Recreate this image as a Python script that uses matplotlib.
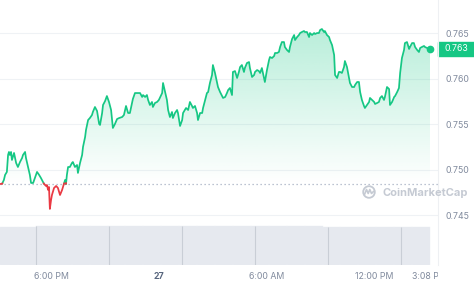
import numpy as np
import matplotlib
matplotlib.use("Agg")
import matplotlib.pyplot as plt
from matplotlib.patches import Rectangle, Circle
from matplotlib.path import Path
from matplotlib.transforms import Bbox

plt.rcParams['font.family'] = ['Inter', 'DejaVu Sans']

# ---------------- data ----------------
# minutes since 3:08 PM (day 26)
minutes = [
    0, 7, 13, 17, 23, 27, 30, 33, 37, 40,
    47, 54, 60, 67, 74, 77, 84, 87, 94, 100,
    104, 111, 117, 124, 131, 137, 144, 147, 154, 157,
    161, 164, 167, 171, 174, 181, 188, 194, 201, 204,
    208, 214, 218, 221, 224, 228, 234, 241, 244, 251,
    258, 261, 268, 275, 278, 285, 288, 295, 301, 308,
    311, 318, 325, 332, 335, 342, 345, 352, 358, 365,
    372, 378, 385, 392, 399, 409, 415, 422, 429, 435,
    442, 445, 452, 459, 469, 476, 479, 486, 492, 496,
    502, 509, 512, 519, 526, 532, 543, 546, 553, 559,
    563, 569, 576, 579, 586, 593, 596, 603, 610, 613,
    623, 630, 636, 643, 646, 653, 660, 663, 670, 677,
    680, 687, 693, 697, 703, 710, 713, 720, 727, 730,
    737, 747, 754, 760, 764, 770, 777, 780, 787, 794,
    800, 804, 810, 817, 820, 827, 834, 837, 844, 851,
    854, 861, 867, 871, 877, 884, 887, 894, 901, 904,
    911, 918, 921, 928, 934, 938, 944, 951, 954, 961,
    968, 971, 978, 985, 988, 995, 1001, 1005, 1011, 1018,
    1021, 1028, 1035, 1038, 1045, 1052, 1055, 1062, 1068, 1072,
    1078, 1085, 1088, 1095, 1102, 1105, 1112, 1119, 1122, 1129,
    1135, 1139, 1145, 1152, 1155, 1162, 1169, 1172, 1179, 1186,
    1189, 1196, 1202, 1206, 1212, 1219, 1222, 1229, 1236, 1239,
    1246, 1253, 1256, 1263, 1269, 1273, 1279, 1286, 1289, 1296,
    1303, 1306, 1313, 1320, 1323, 1330, 1336, 1340, 1346, 1353,
    1356, 1363, 1370, 1373, 1380, 1386, 1390, 1397, 1403, 1407,
    1413, 1420, 1423, 1430, 1440,
]
prices = [
    0.74845, 0.74846, 0.74889, 0.74944, 0.74977, 0.75163, 0.75196, 0.75163, 0.75196, 0.75108,
    0.75185, 0.75075, 0.75031, 0.75086, 0.75130, 0.75163, 0.75196, 0.75130, 0.75031, 0.74944,
    0.74856, 0.74856, 0.74911, 0.74977, 0.74944, 0.74911, 0.74867, 0.74848, 0.74823, 0.74834,
    0.74780, 0.74812, 0.74571, 0.74670, 0.74724, 0.74801, 0.74823, 0.74801, 0.74724, 0.74747,
    0.74780, 0.74845, 0.74889, 0.74845, 0.74944, 0.75031, 0.75031, 0.75075, 0.75086, 0.75031,
    0.75053, 0.74966, 0.75075, 0.75163, 0.75251, 0.75360, 0.75437, 0.75546, 0.75568, 0.75601,
    0.75634, 0.75689, 0.75645, 0.75503, 0.75492, 0.75623, 0.75711, 0.75755, 0.75809, 0.75744,
    0.75656, 0.75459, 0.75503, 0.75557, 0.75568, 0.75579, 0.75601, 0.75700, 0.75623, 0.75623,
    0.75733, 0.75777, 0.75842, 0.75842, 0.75842, 0.75799, 0.75820, 0.75799, 0.75820, 0.75766,
    0.75711, 0.75744, 0.75689, 0.75733, 0.75744, 0.75766, 0.75842, 0.75952, 0.75853, 0.75766,
    0.75656, 0.75579, 0.75634, 0.75568, 0.75623, 0.75656, 0.75623, 0.75481, 0.75546, 0.75623,
    0.75678, 0.75656, 0.75744, 0.75700, 0.75678, 0.75700, 0.75623, 0.75546, 0.75623, 0.75623,
    0.75678, 0.75766, 0.75842, 0.75853, 0.75952, 0.76040, 0.76149, 0.76062, 0.75952, 0.75908,
    0.75853, 0.75788, 0.75799, 0.75842, 0.75875, 0.75897, 0.75820, 0.76073, 0.76083, 0.76007,
    0.76073, 0.76127, 0.76149, 0.76073, 0.76116, 0.76171, 0.76182, 0.76116, 0.76018, 0.76040,
    0.76073, 0.76094, 0.76083, 0.76062, 0.76116, 0.76007, 0.75963, 0.76094, 0.76204, 0.76237,
    0.76226, 0.76248, 0.76281, 0.76281, 0.76292, 0.76347, 0.76401, 0.76401, 0.76347, 0.76314,
    0.76292, 0.76347, 0.76434, 0.76478, 0.76423, 0.76456, 0.76478, 0.76500, 0.76511, 0.76522,
    0.76511, 0.76511, 0.76456, 0.76500, 0.76478, 0.76500, 0.76489, 0.76500, 0.76500, 0.76533,
    0.76544, 0.76511, 0.76522, 0.76478, 0.76456, 0.76423, 0.76368, 0.76259, 0.76040, 0.76007,
    0.76073, 0.76073, 0.76062, 0.76127, 0.76193, 0.76127, 0.76007, 0.75952, 0.75908, 0.75908,
    0.75930, 0.75963, 0.75963, 0.75853, 0.75766, 0.75700, 0.75678, 0.75711, 0.75744, 0.75788,
    0.75766, 0.75744, 0.75722, 0.75733, 0.75744, 0.75788, 0.75809, 0.75766, 0.75799, 0.75908,
    0.75886, 0.75711, 0.75744, 0.75799, 0.75809, 0.75853, 0.75897, 0.76062, 0.76226, 0.76314,
    0.76390, 0.76401, 0.76325, 0.76347, 0.76390, 0.76390, 0.76347, 0.76314, 0.76292, 0.76336,
    0.76347, 0.76358, 0.76347, 0.76336, 0.76325,
]
open_price = 0.7485

# hourly volume (arbitrary units, millions)
volume_hours = list(range(24))
volumes = [388, 386, 396, 398, 398, 399, 398, 398, 397, 398, 399, 398,
           398, 398, 397, 396, 396, 395, 386, 385, 385, 384, 385, 384]
volume_dividers = [121, 365, 610, 854, 1098, 1343]

y_ticks = [0.745, 0.750, 0.755, 0.760, 0.765]
x_tick_pos = [172, 532, 892, 1252]
x_tick_labels = ["6:00 PM", "27", "6:00 AM", "12:00 PM"]
last_label = "3:08 PM"

GREEN = "#16c784"
RED = "#ea3943"
GRAY = "#808a9d"

# ---------------- figure ----------------
W, H = 474, 285
fig = plt.figure(figsize=(W / 100, H / 100), dpi=100)
fig.patch.set_facecolor("white")

def fx(px):
    return px / W

def fy(py):
    return 1 - py / H

PLOT_R = 438
XMAX = 1440 * PLOT_R / 430

ax = fig.add_axes([0, fy(222), fx(PLOT_R), 222 / H])
ax.set_facecolor("none")
for s in ax.spines.values():
    s.set_visible(False)

t = np.array(minutes, float)
p = np.array(prices, float)
ref = open_price

# insert crossing points
tt, pp = [t[0]], [p[0]]
for i in range(1, len(t)):
    a, b = p[i - 1] - ref, p[i] - ref
    if a * b < 0:
        f = a / (a - b)
        tt.append(t[i - 1] + f * (t[i] - t[i - 1]))
        pp.append(ref)
    tt.append(t[i])
    pp.append(p[i])
tt = np.array(tt)
pp = np.array(pp)

up = np.where(pp >= ref, pp, np.nan)
dn = np.where(pp <= ref, pp, np.nan)

# gradient fills
top = p.max()
g = np.zeros((256, 1, 4))
g[..., :3] = matplotlib.colors.to_rgb(GREEN)
g[:, 0, 3] = np.linspace(0.30, 0.0, 256)
im = ax.imshow(g, extent=(tt[0], tt[-1], ref, top), origin="upper",
               aspect="auto", interpolation="bilinear", zorder=1)
verts = [(tt[0], ref)] + list(zip(tt, np.maximum(pp, ref))) + [(tt[-1], ref), (tt[0], ref)]
im.set_clip_path(Path(verts), transform=ax.transData)

bot = p.min()
r = np.zeros((256, 1, 4))
r[..., :3] = matplotlib.colors.to_rgb(RED)
r[:, 0, 3] = np.linspace(0.0, 0.10, 256)
im2 = ax.imshow(r, extent=(tt[0], tt[-1], bot, ref), origin="upper",
                aspect="auto", interpolation="bilinear", zorder=1)
verts2 = [(tt[0], ref)] + list(zip(tt, np.minimum(pp, ref))) + [(tt[-1], ref), (tt[0], ref)]
im2.set_clip_path(Path(verts2), transform=ax.transData)

ax.set_xlim(0, XMAX)
ax.set_ylim(0.74428, 0.76862)

ax.axhline(ref, color="#a6b0c3", lw=0.9, ls=(0, (1, 2.2)), zorder=2)
ax.plot(tt, up, color=GREEN, lw=1.25, solid_joinstyle="round", zorder=3)
ax.plot(tt, dn, color=RED, lw=1.25, solid_joinstyle="round", zorder=3)
ax.plot(t[-1], p[-1], "o", ms=4.5, color=GREEN, zorder=4)

ax.set_yticks(y_ticks)
ax.set_yticklabels([f"{v:.3f}" for v in y_ticks])
ax.yaxis.tick_right()
ax.tick_params(axis="y", length=0, pad=5.2, labelsize=6.3, labelcolor=GRAY)
ax.set_xticks([])
ax.grid(axis="y", color="#eff2f5", lw=0.8)
ax.set_axisbelow(True)

# volume axis
axv = fig.add_axes([0, fy(265), fx(PLOT_R), 47 / H])
axv.set_xlim(0, XMAX)
axv.set_ylim(0, 480)
axv.set_facecolor("none")
for s in axv.spines.values():
    s.set_visible(False)
vx = np.array(volume_hours) * 60 + 30
axv.bar(vx, volumes, width=60, color="#e6e9ef", edgecolor="#eaedf2", lw=0.3)
vol_at = [volumes[int(m // 60)] for m in volume_dividers]
axv.vlines(volume_dividers, 0, vol_at, color="#c9ced6", lw=0.8)
axv.set_yticks([])
axv.set_xticks(x_tick_pos)
axv.set_xticklabels(x_tick_labels)
axv.tick_params(axis="x", length=0, pad=5.0, labelsize=6.3, labelcolor=GRAY)
lbls = axv.get_xticklabels()
lbls[1].set_fontweight("bold")
lbls[1].set_color("#58667e")

# clipped last time label
tl = fig.text(fx(429), fy(276.5), last_label, ha="center", va="center",
              fontsize=6.3, color=GRAY)
tl.set_clip_box(Bbox.from_extents(0, 0, PLOT_R, H))
tl.set_clip_on(True)

# overlay in pixel coords
ov = fig.add_axes([0, 0, 1, 1])
ov.set_xlim(0, W)
ov.set_ylim(H, 0)
ov.axis("off")
ov.set_facecolor("none")

ov.plot([PLOT_R, PLOT_R], [0, 265], color="#eef0f3", lw=0.8, clip_on=False)

# price tag
disp_y = ax.transData.transform((0, p[-1]))[1]
py_last = H - disp_y
ov.add_patch(Rectangle((PLOT_R, py_last - 7), W - PLOT_R, 14, color=GREEN, clip_on=False))
ov.text(445, py_last, f"{p[-1]:.3f}", color="white", fontsize=6.3,
        ha="left", va="center")

# watermark
wm = "#c5cad3"
ov.add_patch(Circle((369, 192), 5.8, fill=False, ec=wm, lw=1.3))
ov.plot([364.5, 366.5, 368.2, 369.8, 371.5, 373.5],
        [194.5, 189.5, 193.5, 189.5, 193.5, 191.5], color=wm, lw=1.2)
ov.text(383, 192.5, "CoinMarketCap", color=wm, fontsize=8.0, fontweight="bold",
        ha="left", va="center")

fig.savefig("out.png", dpi=100)
